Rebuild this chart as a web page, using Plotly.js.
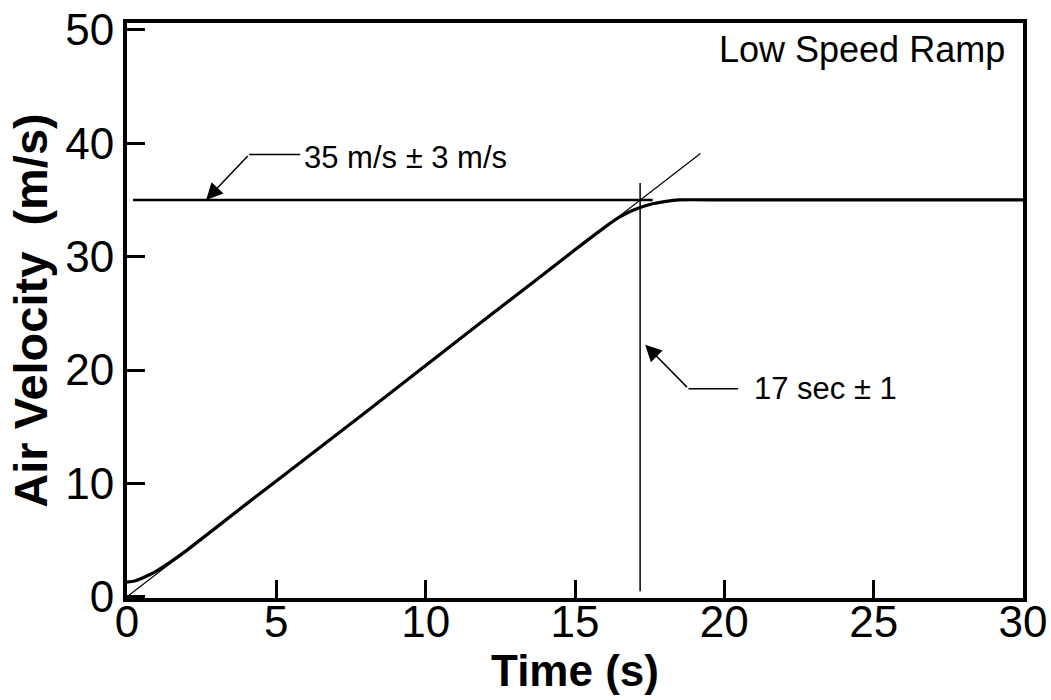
<!DOCTYPE html>
<html>
<head>
<meta charset="utf-8">
<script src="https://cdn.plot.ly/plotly-3.0.1.min.js"></script>
<style>html,body{margin:0;padding:0;background:#fff;}#chart{width:1051px;height:700px;}</style>
</head>
<body>
<div id="chart"></div>
<script>
// Measured air velocity during the low speed ramp
const timeS = [0, 0.25, 0.5, 0.75, 1.0, 1.5, 2, 4, 6, 8, 10, 12, 14, 15, 16, 16.5, 17, 17.5, 18, 18.5, 20, 25, 30];
const velocity = [1.3, 1.4, 1.65, 1.95, 2.3, 3.15, 4.1, 8.2, 12.25, 16.3, 20.4, 24.5, 28.55, 30.6, 32.6, 33.5, 34.15, 34.6, 34.85, 35, 35, 35, 35];
// Straight-line fit of the ramp
const fitT = [0, 19.2];
const fitV = [0, 39.1];
// Target velocity 35 m/s
const targetT = [0.2, 17.6];
const targetV = [35, 35];
// Ramp time marker, 17 s
const markT = [17.18, 17.18];
const markV = [0.5, 36.5];
// Ticks
const xTicks = [0, 5, 10, 15, 20, 25, 30];
const yTicks = [0, 10, 20, 30, 40, 50];

const FONT = '"Liberation Sans", Arial, Helvetica, sans-serif';

const traces = [
  {x: fitT, y: fitV, mode: 'lines', line: {color: '#000', width: 1.2}, hoverinfo: 'skip'},
  {x: targetT, y: targetV, mode: 'lines', line: {color: '#000', width: 2.5}, hoverinfo: 'skip'},
  {x: markT, y: markV, mode: 'lines', line: {color: '#000', width: 1.5}, hoverinfo: 'skip'},
  {x: timeS, y: velocity, mode: 'lines', line: {color: '#000', width: 3.2, shape: 'spline', smoothing: 0.6}}
];

const layout = {
  width: 1051, height: 700,
  margin: {l: 127, r: 28, t: 23, b: 102},
  paper_bgcolor: '#fff', plot_bgcolor: '#fff',
  showlegend: false,
  font: {family: FONT, color: '#000'},
  xaxis: {
    range: [0, 30], tickvals: xTicks, ticktext: xTicks.map(String),
    showgrid: false, zeroline: false,
    showline: true, linewidth: 4, linecolor: '#000', mirror: true,
    ticks: 'inside', ticklen: 18, tickwidth: 3, tickcolor: '#000',
    ticklabelstandoff: -18,
    tickfont: {family: FONT, size: 44, color: '#000'},
    title: {text: 'Time (s)', font: {family: FONT, size: 44, color: '#000', weight: 'bold'}, standoff: 0}
  },
  yaxis: {
    range: [-0.1, 50.6], tickvals: yTicks, ticktext: yTicks.map(String),
    showgrid: false, zeroline: false,
    showline: true, linewidth: 4, linecolor: '#000', mirror: true,
    ticks: 'inside', ticklen: 18, tickwidth: 3, tickcolor: '#000',
    tickfont: {family: FONT, size: 44, color: '#000'},
    title: {text: 'Air Velocity  (m/s)', font: {family: FONT, size: 47, color: '#000', weight: 'bold'}, standoff: 4}
  },
  shapes: [
    {type: 'line', xref: 'x', yref: 'y', x0: 4.09, y0: 39.0, x1: 5.8, y1: 39.0, line: {color: '#000', width: 1.5}},
    {type: 'line', xref: 'x', yref: 'y', x0: 18.8, y0: 18.36, x1: 20.46, y1: 18.36, line: {color: '#000', width: 1.5}}
  ],
  annotations: [
    {x: 29.45, y: 48.3, xref: 'x', yref: 'y', text: 'Low Speed Ramp', showarrow: false, xanchor: 'right', yanchor: 'middle',
     font: {family: FONT, size: 36, color: '#000'}},
    {x: 5.87, y: 38.75, xref: 'x', yref: 'y', text: '35 m/s ± 3 m/s', showarrow: false, xanchor: 'left', yanchor: 'middle',
     font: {family: FONT, size: 31, color: '#000'}},
    {x: 20.93, y: 18.35, xref: 'x', yref: 'y', text: '17 sec ± 1', showarrow: false, xanchor: 'left', yanchor: 'middle',
     font: {family: FONT, size: 31, color: '#000'}},
    {x: 2.65, y: 35.0, xref: 'x', yref: 'y', axref: 'x', ayref: 'y', ax: 4.09, ay: 39.0, text: '', showarrow: true,
     arrowhead: 2, arrowsize: 2.2, arrowwidth: 1.5, arrowcolor: '#000', standoff: 0},
    {x: 17.35, y: 22.24, xref: 'x', yref: 'y', axref: 'x', ayref: 'y', ax: 18.8, ay: 18.36, text: '', showarrow: true,
     arrowhead: 2, arrowsize: 2.2, arrowwidth: 1.5, arrowcolor: '#000', standoff: 0}
  ]
};

Plotly.newPlot('chart', traces, layout, {displayModeBar: false, staticPlot: true});
</script>
</body>
</html>
